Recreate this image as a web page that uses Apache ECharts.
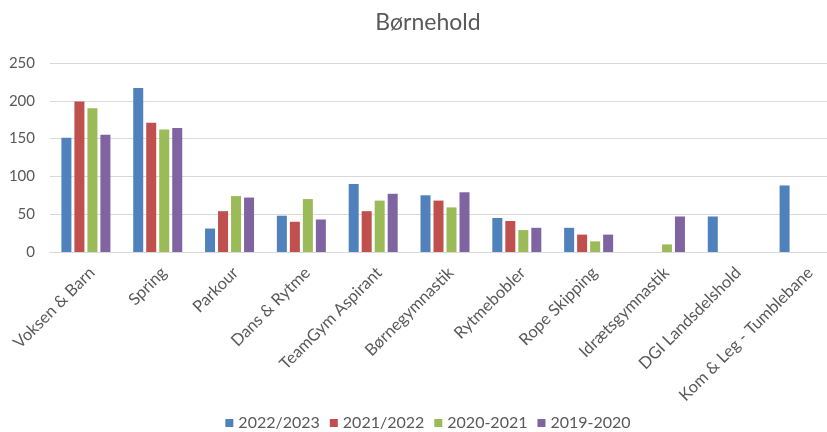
<!DOCTYPE html>
<html><head><meta charset="utf-8">
<script src="https://cdn.jsdelivr.net/npm/echarts@6/dist/echarts.min.js"></script>
<style>html,body{margin:0;padding:0;background:#fff;overflow:hidden}#c{width:856px;height:432px}</style>
</head><body><div id="c"></div>
<script>
const categories = ["Voksen & Barn","Spring","Parkour","Dans & Rytme","TeamGym Aspirant","Børnegymnastik","Rytmebobler","Rope Skipping","Idrætsgymnastik","DGI Landsdelshold","Kom & Leg - Tumblebane"];
const seriesNames = ["2022/2023","2021/2022","2020-2021","2019-2020"];
const s2022_2023 = [151,217,31,48,90,75,45,32,null,47,88];
const s2021_2022 = [199,171,54,40,54,68,41,23,null,null,null];
const s2020_2021 = [190,162,74,70,68,59,29,14,10,null,null];
const s2019_2020 = [155,164,72,43,77,79,32,23,47,null,null];
const yTicks = [0,50,100,150,200,250];
const colors = ["#4F81BD","#C0504D","#9BBB59","#8064A2"];
const values = [s2022_2023,s2021_2022,s2020_2021,s2019_2020];
const font = "Lato, 'Open Sans', sans-serif";
const chart = echarts.init(document.getElementById('c'), null, {renderer:'canvas'});
chart.setOption({
  animation:false,
  backgroundColor:'#fff',
  title:{text:'Børnehold', left:'center', top:6, textStyle:{fontFamily:font, fontSize:23, fontWeight:'normal', color:'#595959'}},
  legend:{data:seriesNames, top:410, left:'center', itemWidth:8, itemHeight:8, itemGap:10, icon:'rect',
    textStyle:{fontFamily:font, fontSize:16, color:'#595959'}},
  grid:{left:50, top:63, width:790, height:189, containLabel:false},
  xAxis:{type:'category', data:categories,
    axisLine:{lineStyle:{color:'#d9d9d9'}}, axisTick:{show:false},
    axisLabel:{rotate:45, interval:0, fontFamily:font, fontSize:16.5, color:'#595959', margin:12, verticalAlign:'top'}},
  yAxis:{type:'value', min:yTicks[0], max:yTicks[yTicks.length-1], interval:50,
    axisLine:{show:false}, axisTick:{show:false},
    splitLine:{lineStyle:{color:'#d9d9d9'}},
    axisLabel:{fontFamily:font, fontSize:15, color:'#595959', margin:15}},
  series: seriesNames.map((n,i)=>({name:n, type:'bar', data:values[i], barWidth:10, barGap:'30%',
    itemStyle:{color:colors[i]}}))
});
</script></body></html>
